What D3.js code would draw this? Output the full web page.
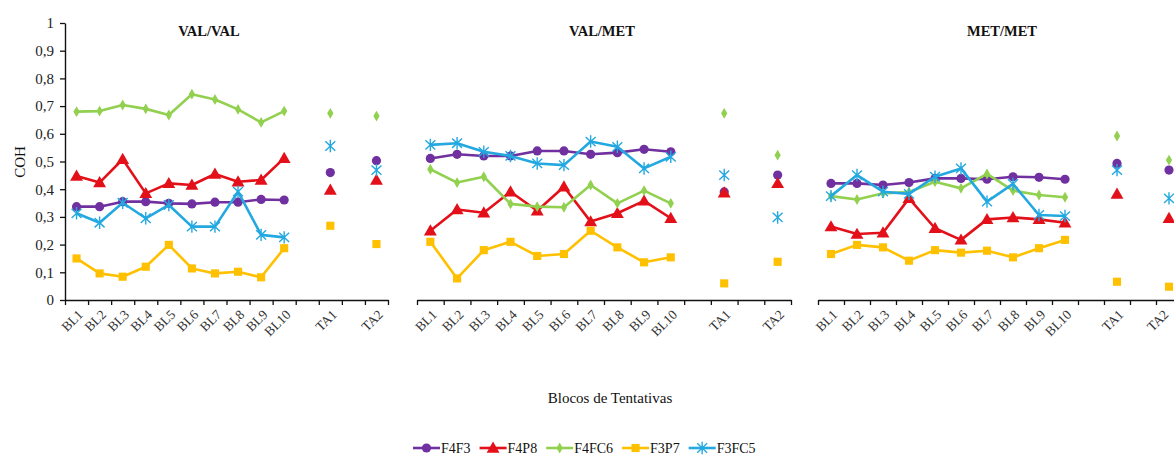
<!DOCTYPE html>
<html>
<head>
<meta charset="utf-8">
<script src="https://cdn.jsdelivr.net/npm/d3@7"></script>
<style>
  html, body { margin: 0; padding: 0; background: #fff; }
  svg { display: block; }
</style>
</head>
<body>
<svg id="chart" width="1174" height="462"></svg>
<script>
// Category slots along each x axis (blank slots separate the TA blocks)
const slots = ["BL1","BL2","BL3","BL4","BL5","BL6","BL7","BL8","BL9","BL10","gapA","TA1","gapB","TA2"];
const blocks = ["BL1","BL2","BL3","BL4","BL5","BL6","BL7","BL8","BL9","BL10"];
const tests = ["TA1","TA2"];
const yTicks = [0,0.1,0.2,0.3,0.4,0.5,0.6,0.7,0.8,0.9,1];

const seriesNames = ["F4F3","F4P8","F4FC6","F3P7","F3FC5"];
const seriesColors = ["#7030A0","#E3101A","#92D050","#FFC000","#23A8E0"];
const panelTitles = ["VAL/VAL","VAL/MET","MET/MET"];

// Values: BL1..BL10, then TA1, TA2
const valValF4F3  = [0.337,0.337,0.355,0.355,0.349,0.347,0.353,0.353,0.363,0.361, 0.460,0.503];
const valValF4P8  = [0.448,0.424,0.508,0.385,0.421,0.415,0.455,0.427,0.433,0.512, 0.397,0.433];
const valValF4FC6 = [0.680,0.682,0.704,0.690,0.668,0.743,0.724,0.688,0.641,0.682, 0.674,0.664];
const valValF3P7  = [0.150,0.096,0.084,0.120,0.199,0.114,0.096,0.102,0.082,0.187, 0.268,0.202];
const valValF3FC5 = [0.313,0.279,0.351,0.295,0.343,0.265,0.265,0.391,0.235,0.226, 0.556,0.469];

const valMetF4F3  = [0.511,0.526,0.520,0.520,0.538,0.538,0.526,0.532,0.544,0.535, 0.390,0.451];
const valMetF4P8  = [0.250,0.327,0.315,0.391,0.322,0.409,0.283,0.313,0.358,0.295, 0.387,0.421];
const valMetF4FC6 = [0.472,0.424,0.445,0.347,0.337,0.335,0.415,0.349,0.395,0.349, 0.674,0.523];
const valMetF3P7  = [0.210,0.078,0.180,0.210,0.159,0.166,0.250,0.190,0.136,0.154, 0.060,0.138];
const valMetF3FC5 = [0.560,0.566,0.535,0.520,0.493,0.487,0.572,0.553,0.475,0.517, 0.451,0.298];

const metMetF4F3  = [0.421,0.421,0.415,0.424,0.439,0.439,0.436,0.445,0.443,0.436, 0.493,0.469];
const metMetF4P8  = [0.265,0.238,0.243,0.367,0.259,0.217,0.291,0.298,0.291,0.279, 0.383,0.295];
const metMetF4FC6 = [0.375,0.363,0.385,0.390,0.427,0.403,0.455,0.395,0.379,0.371, 0.592,0.505];
const metMetF3P7  = [0.166,0.199,0.190,0.142,0.180,0.171,0.178,0.154,0.187,0.217, 0.066,0.048];
const metMetF3FC5 = [0.375,0.451,0.391,0.383,0.445,0.475,0.355,0.419,0.307,0.303, 0.469,0.367];

const panelSeries = [
  [valValF4F3, valValF4P8, valValF4FC6, valValF3P7, valValF3FC5],
  [valMetF4F3, valMetF4P8, valMetF4FC6, valMetF3P7, valMetF3FC5],
  [metMetF4F3, metMetF4P8, metMetF4FC6, metMetF3P7, metMetF3FC5]
];

// Layout of the three panels
const panelBox = [
  { x0: 65,  x1: 388,  title: 209 },
  { x0: 417, x1: 791,  title: 602 },
  { x0: 818, x1: 1182, title: 1002 }
];
const yTop = 23, yBottom = 300;
const SERIF = '"Liberation Serif", "Times New Roman", Times, "DejaVu Serif", serif';
const W = 1174;

const svg = d3.select("#chart").attr("font-family", SERIF).style("font-family", SERIF);
const y = d3.scaleLinear().domain([0, 1]).range([yBottom, yTop]);
const fmt = v => String(+v.toFixed(1)).replace(".", ",");

function txt(sel) { return sel.style("font-family", SERIF).attr("fill", "#111"); }

// Marker drawing for each series
function drawMarker(g, i, color, cx, cy) {
  if (i === 0) {
    g.append("circle").attr("cx", cx).attr("cy", cy).attr("r", 4.6).attr("fill", color);
  } else if (i === 4) {
    const r = 6.2;
    const p = d3.path();
    p.moveTo(cx, cy - r); p.lineTo(cx, cy + r);
    p.moveTo(cx - r * 0.8, cy - r * 0.75); p.lineTo(cx + r * 0.8, cy + r * 0.75);
    p.moveTo(cx - r * 0.8, cy + r * 0.75); p.lineTo(cx + r * 0.8, cy - r * 0.75);
    g.append("path").attr("d", p.toString()).attr("stroke", color)
      .attr("stroke-width", 1.4).attr("fill", "none");
  } else {
    const sym = i === 1 ? d3.symbolTriangle : i === 2 ? d3.symbolDiamond : d3.symbolSquare;
    const size = i === 1 ? 72 : i === 2 ? 34 : 66;
    const dy = i === 1 ? 1 : 0;
    g.append("path").attr("d", d3.symbol().type(sym).size(size)())
      .attr("transform", `translate(${cx},${cy + dy})`).attr("fill", color);
  }
}

panelBox.forEach((box, p) => {
  const x = d3.scaleBand().domain(slots).range([box.x0, box.x1]).padding(0);
  const edge = d3.scaleLinear().domain([0, slots.length]).range([box.x0, box.x1]);
  const g = svg.append("g");

  // x axis with ticks between categories
  const xa = g.append("g").attr("transform", `translate(0,${yBottom})`)
    .call(d3.axisBottom(edge).tickValues(d3.range(slots.length + 1)).tickFormat("").tickSize(5).tickSizeOuter(0));
  xa.select(".domain").attr("stroke", "#111").attr("stroke-width", 1.4);
  xa.selectAll(".tick line").attr("stroke", "#111").attr("stroke-width", 1.3);

  // category labels, slanted
  const labels = blocks.concat(tests);
  g.selectAll("text.xl").data(labels).enter().append("text")
    .attr("class", "xl")
    .attr("transform", d => {
      const lx = Math.min(x(d) + x.bandwidth() / 2 + 4, W - 8);
      return `translate(${lx},${yBottom + 12}) rotate(-45)`;
    })
    .attr("text-anchor", "end")
    .attr("dy", "0.35em")
    .style("font-size", "13.5px")
    .call(txt)
    .attr("fill", "#333")
    .text(d => d);

  // y axis only on the first panel
  if (p === 0) {
    const ya = g.append("g").attr("transform", `translate(${box.x0},0)`)
      .call(d3.axisLeft(y).tickValues(yTicks).tickFormat(fmt).tickSize(5).tickSizeOuter(0).tickPadding(6));
    ya.attr("font-family", null);
    ya.select(".domain").attr("stroke", "#111").attr("stroke-width", 1.4);
    ya.selectAll(".tick line").attr("stroke", "#111").attr("stroke-width", 1.3);
    ya.selectAll(".tick text").style("font-size", "15px").call(txt).attr("fill", "#222");
  }

  // panel title
  g.append("text").attr("x", box.title).attr("y", 36).attr("text-anchor", "middle")
    .style("font-size", "14.5px").style("font-weight", "bold").call(txt).text(panelTitles[p]);

  // series: lines over BL blocks, separate markers for TA
  panelSeries[p].forEach((vals, i) => {
    const color = seriesColors[i];
    const blockPts = blocks.map((b, k) => [x(b) + x.bandwidth() / 2, y(vals[k])]);
    g.append("path").attr("d", d3.line()(blockPts)).attr("fill", "none")
      .attr("stroke", color).attr("stroke-width", 2.6).attr("stroke-linejoin", "round");
    const sg = g.append("g");
    blockPts.forEach(pt => drawMarker(sg, i, color, pt[0], pt[1]));
    tests.forEach((t, k) => drawMarker(sg, i, color, x(t) + x.bandwidth() / 2, y(vals[blocks.length + k])));
  });
});

// axis titles
svg.append("text").attr("transform", `translate(25,162) rotate(-90)`).attr("text-anchor", "middle")
  .style("font-size", "15px").call(txt).text("COH");
svg.append("text").attr("x", 610).attr("y", 403).attr("text-anchor", "middle")
  .style("font-size", "15px").call(txt).text("Blocos de Tentativas");

// legend
const leg = svg.append("g").attr("transform", "translate(413,448)");
let lx = 0;
seriesNames.forEach((name, i) => {
  const item = leg.append("g").attr("transform", `translate(${lx},0)`);
  item.append("line").attr("x1", 0).attr("x2", 27).attr("y1", 0).attr("y2", 0)
    .attr("stroke", seriesColors[i]).attr("stroke-width", 2.6);
  drawMarker(item, i, seriesColors[i], 13.5, 0);
  const t = item.append("text").attr("x", 28).attr("y", 5).style("font-size", "14px").call(txt).text(name);
  lx += 28 + t.node().getComputedTextLength() + 9;
});
</script>
</body>
</html>
